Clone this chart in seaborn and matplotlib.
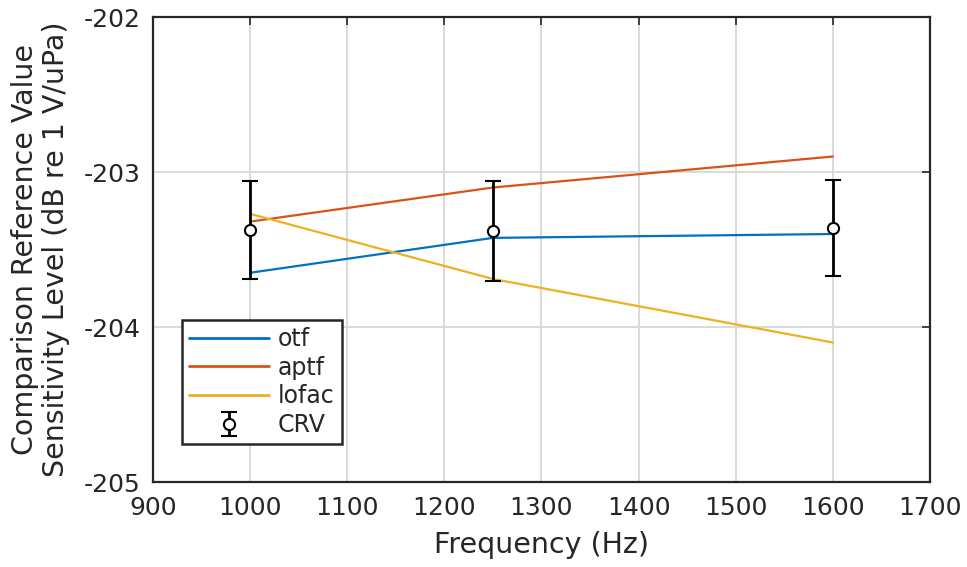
import matplotlib
matplotlib.use("Agg")
import matplotlib.pyplot as plt
import seaborn as sns
import pandas as pd
from matplotlib.lines import Line2D

# Frequencies (Hz)
freq = [1000, 1250, 1600]

# Sensitivity levels (dB re 1 V/uPa)
otf = [-203.65, -203.425, -203.40]
aptf = [-203.32, -203.10, -202.90]
lofac = [-203.27, -203.69, -204.10]

# Comparison reference value and its uncertainty
crv = [-203.375, -203.38, -203.36]
crv_err = [0.318, 0.32, 0.31]

x_ticks = [900, 1000, 1100, 1200, 1300, 1400, 1500, 1600, 1700]
y_ticks = [-205, -204, -203, -202]

series_names = ["otf", "aptf", "lofac"]
palette = {"otf": "#0072BD", "aptf": "#D95319", "lofac": "#EDB120"}

df = pd.DataFrame({
    "Frequency": freq * 3,
    "Level": otf + aptf + lofac,
    "Method": [n for n in series_names for _ in freq],
})

sns.set_theme(style="whitegrid")
plt.rcParams["font.family"] = ["DejaVu Sans"]

fig = plt.figure(figsize=(9.67, 5.67), dpi=100)
ax = fig.add_axes([0.1582, 0.1499, 0.8035, 0.8201])

sns.lineplot(data=df, x="Frequency", y="Level", hue="Method",
             hue_order=series_names, palette=palette, linewidth=1.6,
             ax=ax, legend=False)

eb = ax.errorbar(freq, crv, yerr=crv_err, fmt="o", color="black",
                 markerfacecolor="white", markeredgecolor="black",
                 markersize=8, markeredgewidth=1.5, elinewidth=2,
                 capsize=6, capthick=2, zorder=5)

ax.set_xlim(900, 1700)
ax.set_ylim(-205, -202)
ax.set_xticks(x_ticks)
ax.set_yticks(y_ticks)
ax.set_xticklabels([str(v) for v in x_ticks])
ax.set_yticklabels([str(v) for v in y_ticks])

ax.grid(True, color="#d9d9d9", linewidth=1.4)
ax.set_axisbelow(True)
ax.set_facecolor("white")
for s in ax.spines.values():
    s.set_color("#262626")
    s.set_linewidth(1.6)
    s.set_visible(True)

ax.tick_params(axis="both", direction="in", length=6, width=1.2,
               color="#262626", labelsize=18, labelcolor="#262626",
               top=True, right=True)
ax.tick_params(axis="y", pad=9)
ax.tick_params(axis="x", pad=10)

ax.set_xlabel("Frequency (Hz)", fontsize=20.5, color="#262626", labelpad=8)
ax.set_ylabel("Comparison Reference Value\nSensitivity Level (dB re 1 V/uPa)",
              fontsize=20.5, color="#262626", labelpad=10, linespacing=1.12)

handles = [Line2D([], [], color=palette[n], lw=2) for n in series_names]
handles.append(eb)
leg = ax.legend(handles, series_names + ["CRV"], loc="upper left",
                bbox_to_anchor=(0.0375, 0.349), fontsize=17, frameon=True,
                fancybox=False, framealpha=1, edgecolor="#262626",
                handlelength=3.4, handletextpad=0.35, borderpad=0.3,
                labelspacing=0.2, borderaxespad=0)
leg.get_frame().set_linewidth(1.8)

fig.savefig("out.png", dpi=100, facecolor="white")
